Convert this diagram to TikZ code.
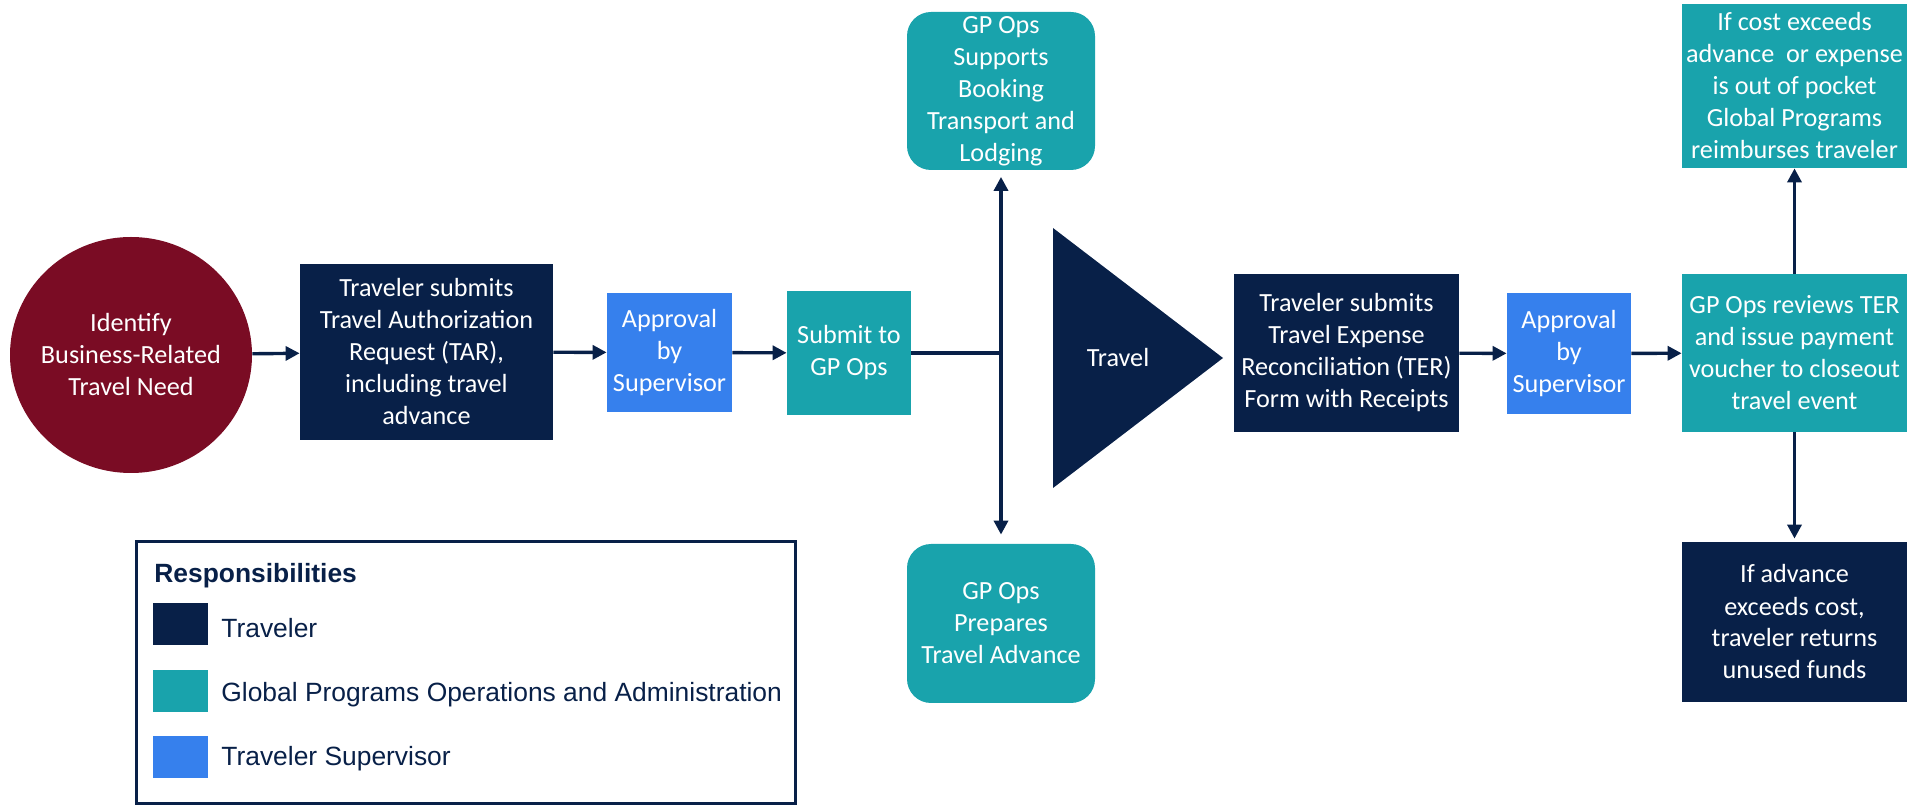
\documentclass[tikz,border=0pt]{standalone}
\usepackage{fontspec}
\setmainfont{Carlito}
\newfontfamily\legendfont{Liberation Sans}
\usepackage{tikz}
\usetikzlibrary{shapes.geometric,arrows.meta}
\pgfdeclarelayer{bg}
\pgfsetlayers{bg,main}
\definecolor{navy}{RGB}{8,32,72}
\definecolor{maroon}{RGB}{122,12,36}
\definecolor{gpteal}{RGB}{25,163,172}
\definecolor{supblue}{RGB}{54,128,237}

\begin{document}
\begin{tikzpicture}[x=0.5pt,y=-0.5pt,
        box/.style={inner sep=0pt, align=center, text=white, font={\fontsize{13.1}{16}\selectfont}},
        trav/.style={box, fill=navy},
        gp/.style={box, fill=gpteal},
        sup/.style={box, fill=supblue},
        flow/.style={draw=navy, line width=1.7pt, -{Triangle[length=7pt,width=7pt]}},
        twoway/.style={draw=navy, line width=1.7pt, {Triangle[length=7pt,width=7pt]}-{Triangle[length=7pt,width=7pt]}},
        key/.style={minimum width=27.5pt, minimum height=21pt, inner sep=0pt},
        keytext/.style={anchor=base west, inner sep=0pt, text=navy, font={\legendfont\fontsize{13.2}{16}\selectfont}}]
        \useasboundingbox (0,0) rectangle (1907,806);
        \node (need) [box, ellipse, inner xsep=-3pt, fill=maroon, minimum width=121pt, minimum height=118pt] at (131,355) {Identify\\Business-Related\\Travel Need};
        \node (tar) [trav, minimum width=126.5pt, minimum height=88pt] at (426.5,352) {Traveler submits\\Travel Authorization\\Request (TAR),\\including travel\\advance};
        \node (appr1) [sup, minimum width=62.5pt, minimum height=59.5pt] at (669.5,352.5) {Approval\\by\\Supervisor};
        \node (submit) [gp, minimum width=62pt, minimum height=62pt] at (849,353) {Submit to\\GP Ops};
        \coordinate (split) at (1001,353);
        \node (book) [gp, rounded corners=12pt, minimum width=94pt, minimum height=79pt] at (1001,91) {GP Ops\\Supports\\Booking\\Transport and\\Lodging};
        \node (adv) [gp, rounded corners=12pt, minimum width=94pt, minimum height=79.5pt] at (1001,623.5) {GP Ops\\Prepares\\Travel Advance};
        \fill[navy] (1053,228) -- (1223,358) -- (1053,488) -- cycle;
        \node (travel) [box] at (1118,358) {Travel};
        \node (ter) [trav, minimum width=112.5pt, minimum height=79pt] at (1346.5,353) {Traveler submits\\Travel Expense\\Reconciliation (TER)\\Form with Receipts};
        \node (appr2) [sup, minimum width=62pt, minimum height=60.5pt] at (1569,353.5) {Approval\\by\\Supervisor};
        \node (review) [gp, minimum width=112.5pt, minimum height=79pt] at (1794.5,353) {GP Ops reviews TER\\and issue payment\\voucher to closeout\\travel event};
        \node (reimb) [gp, minimum width=112.5pt, minimum height=82pt] at (1794.5,86) {If cost exceeds\\advance\ \ or expense\\is out of pocket\\Global Programs\\reimburses traveler};
        \node (refund) [trav, minimum width=112.5pt, minimum height=80pt] at (1794.5,622) {If advance\\exceeds cost,\\traveler returns\\unused funds};
        \node (legend) [draw=navy, line width=1.5pt, minimum width=329.5pt, minimum height=130.5pt] at (465.5,672.5) {};
        \node (resp) [keytext, font={\legendfont\bfseries\fontsize{13.2}{16}\selectfont}] at (154,583) {Responsibilities};
        \node (k1) [key, fill=navy] at (180.5,624) {};
        \node (k2) [key, fill=gpteal] at (180.5,691) {};
        \node (k3) [key, fill=supblue] at (180.5,757) {};
        \node (t1) [keytext] at (221,638) {Traveler};
        \node (t2) [keytext] at (221,702) {Global Programs Operations and Administration};
        \node (t3) [keytext] at (221,765) {Traveler Supervisor};
        \begin{pgfonlayer}{bg}
                \draw (need) edge [flow] (tar);
                \draw (tar) edge [flow] (appr1);
                \draw (appr1) edge [flow] (submit);
                \draw [navy, line width=1.7pt] (submit) -- (split);
                \draw (book) edge [twoway, shorten <=3.25pt, shorten >=4.5pt] (adv);
                \draw (ter) edge [flow] (appr2);
                \draw (appr2) edge [flow] (review);
                \draw (review) edge [flow] (reimb);
                \draw (review) edge [flow, shorten >=1.5pt] (refund);
        \end{pgfonlayer}
\end{tikzpicture}
\end{document}
